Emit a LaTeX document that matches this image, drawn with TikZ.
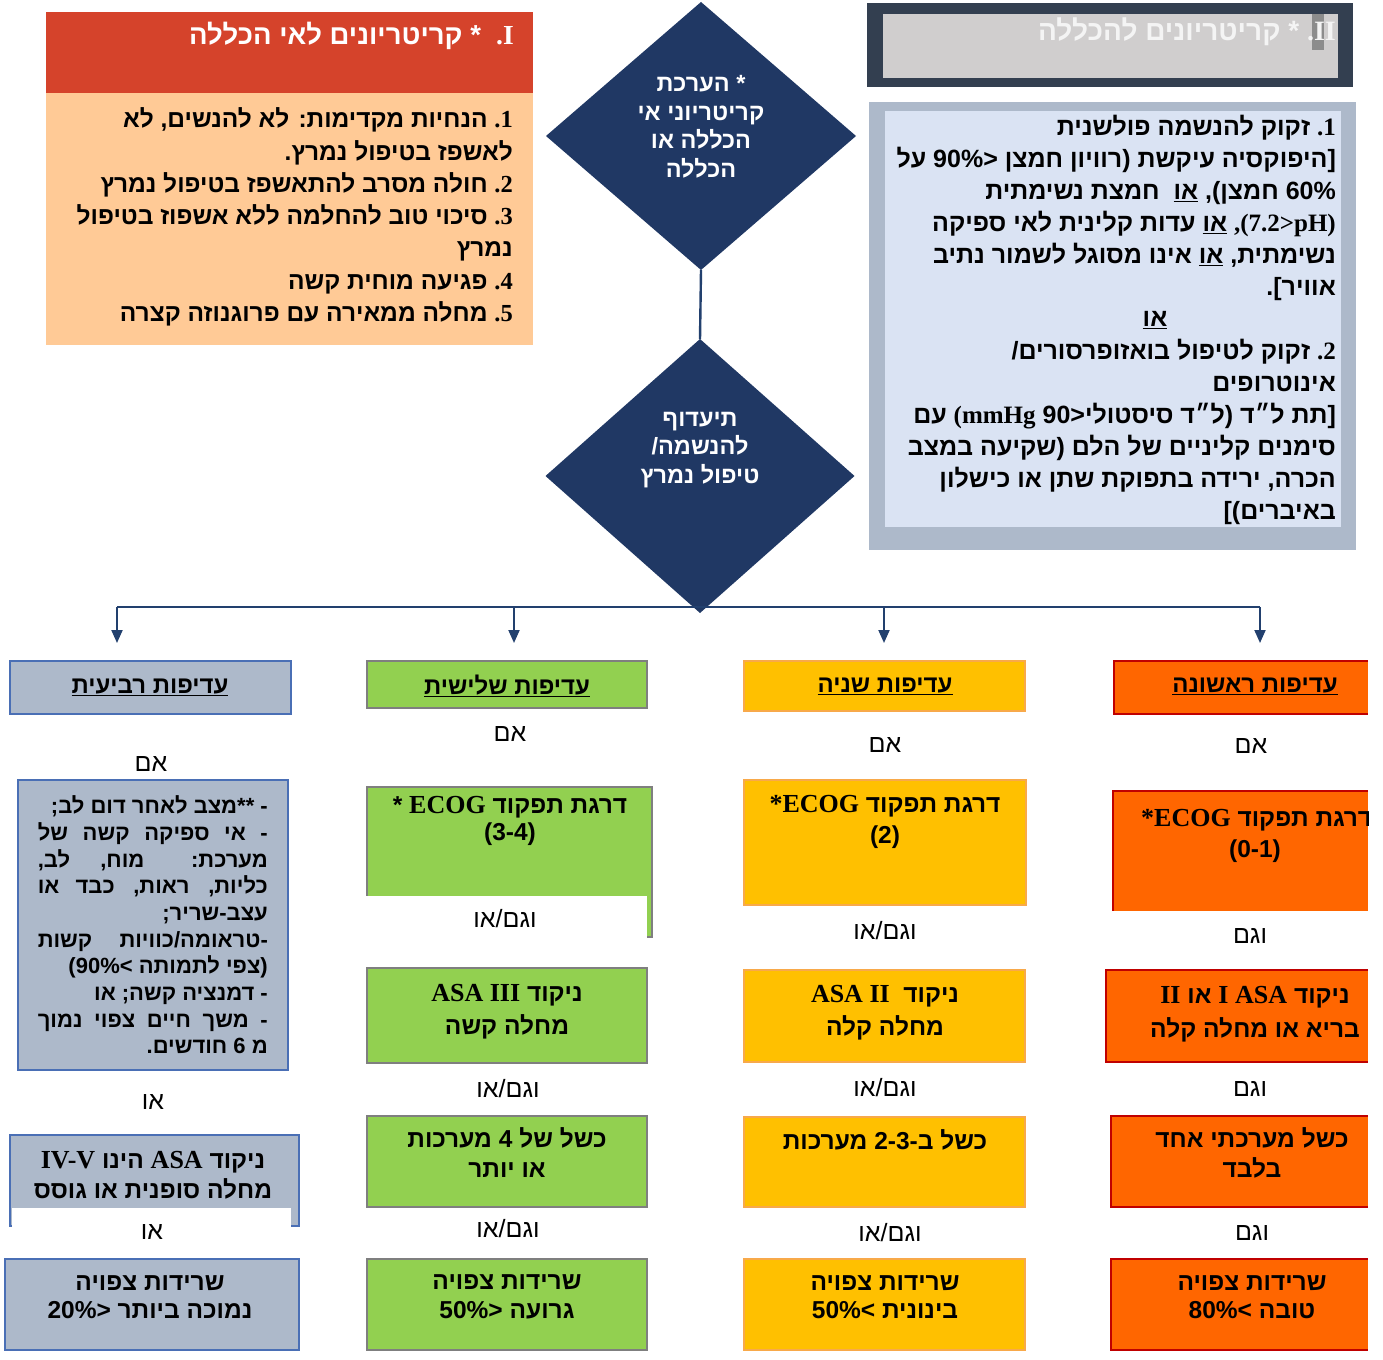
\documentclass[tikz,border=0pt]{standalone}
\usepackage{fontspec}
\usetikzlibrary{arrows.meta,shapes.geometric}
\TeXXeTstate=1
\newfontfamily\heb[Script=Hebrew]{Liberation Sans}
\newfontfamily\lat{Liberation Serif}
\newcommand\LAT[1]{\beginL{\lat\bfseries #1}\endL}
\newcommand\LATb[1]{\beginL{\lat\bfseries\fontsize{26}{30}\selectfont #1}\endL}
\newcommand\JL[1]{\hbox to 230pt{\beginR #1\endR}}
\newcommand\JR[1]{\hbox to 230pt{\hfill\beginR #1\endR}}
\definecolor{navy}{HTML}{203864}
\definecolor{linec}{HTML}{22406E}
\definecolor{redh}{HTML}{D5432B}
\definecolor{peach}{HTML}{FFCA96}
\definecolor{slate}{HTML}{333F50}
\definecolor{lgray}{HTML}{D0CECE}
\definecolor{ttlw}{HTML}{F4F4F4}
\definecolor{hgray}{HTML}{8C8C8C}
\definecolor{bgray}{HTML}{ADB9CA}
\definecolor{lblue}{HTML}{DAE3F3}
\definecolor{cfourd}{HTML}{4A6FB5}
\definecolor{cthreef}{HTML}{92D050}
\definecolor{cthreed}{HTML}{7F7F7F}
\definecolor{ctwof}{HTML}{FFC000}
\definecolor{ctwod}{HTML}{F8A94A}
\definecolor{conef}{HTML}{FF6600}
\definecolor{coned}{HTML}{C00000}
\tikzset{
  bxn/.style={inner sep=0pt, outer sep=0pt, anchor=north west},
  cfour/.style={bxn, fill=bgray, draw=cfourd, line width=2pt},
  cthree/.style={bxn, fill=cthreef, draw=cthreed, line width=2pt},
  ctwo/.style={bxn, fill=ctwof, draw=ctwod, line width=2pt},
  cone/.style={bxn, fill=conef},
  coneline/.style={draw=coned, line width=2pt},
  hbs/.style={font={\heb\bfseries\fontsize{24.5}{#1}\selectfont}, inner sep=0pt, align=center},
  hb/.style={hbs=30},
  hh/.style={font={\heb\bfseries\fontsize{24}{30}\selectfont}, inner sep=0pt, align=center},
  hr/.style={font={\heb\fontsize{25}{30}\selectfont}, inner sep=0pt},
  conn/.style={draw=linec, line width=2.4pt},
  arr/.style={draw=linec, line width=2pt, -{Triangle[length=13pt,width=11pt]}},
  dia/.style={shape=diamond, fill=navy, inner sep=0pt, outer sep=0pt},
  dtxt/.style={font={\heb\bfseries\fontsize{23.5}{28.5}\selectfont}, text=white, inner sep=0pt, align=center},
}
\begin{document}
\begin{tikzpicture}[x=1pt,y=-1pt]
\useasboundingbox (0,0) rectangle (1383,1359);
\fill[white] (0,0) rectangle (1383,1359);

% ---------- top left: exclusion criteria
\node[bxn, fill=redh, minimum width=487, minimum height=81] (exh) at (46,12) {};
\node[bxn, fill=peach, minimum width=487, minimum height=252] (exb) at (46,93) {};
\node[font={\heb\bfseries\fontsize{27.5}{30}\selectfont}, text=white, inner sep=0pt, anchor=east] (ext) at (514,36)
  {\beginR\LAT{.I}\ \ * קריטריונים לאי הכללה\endR};
\node[font={\heb\bfseries\fontsize{24.5}{32.3}\selectfont}, inner sep=0pt, anchor=east, align=right] (exx) at (513,217)
  {\beginR\LAT{.1} הנחיות מקדימות: לא להנשים, לא\endR\\
   \beginR לאשפז בטיפול נמרץ.\endR\\
   \beginR\LAT{.2} חולה מסרב להתאשפז בטיפול נמרץ\endR\\
   \beginR\LAT{.3} סיכוי טוב להחלמה ללא אשפוז בטיפול\endR\\
   \beginR נמרץ\endR\\
   \beginR\LAT{.4} פגיעה מוחית קשה\endR\\
   \beginR\LAT{.5} מחלה ממאירה עם פרוגנוזה קצרה\endR};

% ---------- top right: inclusion criteria
\node[bxn, fill=slate, minimum width=486, minimum height=84] (inf) at (867,3) {};
\node[bxn, fill=lgray, minimum width=455, minimum height=64] (ini) at (883,14) {};
\fill[hgray] (1312,14) rectangle (1324,50);
\node[font={\heb\bfseries\fontsize{28}{30}\selectfont}, text=ttlw, inner sep=0pt, anchor=east] (int) at (1336,32)
  {\beginR\LAT{.II} * קריטריונים להכללה\endR};
\node[bxn, fill=bgray, minimum width=487, minimum height=448] (icf) at (869,102) {};
\node[bxn, fill=lblue, minimum width=456, minimum height=416] (ici) at (885,111) {};
\node[font={\heb\bfseries\fontsize{25}{32}\selectfont}, inner sep=0pt, anchor=east, align=right] (ica) at (1336,208)
  {\beginR\LAT{.1} זקוק להנשמה פולשנית\endR\\
   \beginR [היפוקסיה עיקשת (רוויון חמצן <90\% על\endR\\
   \beginR 60\% חמצן), \underline{או}\ \ חמצת נשימתית\endR\\
   \beginR\LAT{,(7.2>pH)} \underline{או} עדות קלינית לאי ספיקה\endR\\
   \beginR נשימתית, \underline{או} אינו מסוגל לשמור נתיב\endR\\
   \beginR אוויר].\endR};
\node[font={\heb\bfseries\fontsize{25}{32}\selectfont}, inner sep=0pt] (ico) at (1155,320) {\underline{או}};
\node[font={\heb\bfseries\fontsize{25}{32}\selectfont}, inner sep=0pt, anchor=east, align=right] (icb) at (1336,432)
  {\beginR\LAT{.2} זקוק לטיפול בואזופרסורים/\endR\\
   \beginR אינוטרופים\endR\\
   \beginR [תת ל״ד (ל״ד סיסטולי<90 \LAT{(mmHg} עם\endR\\
   \beginR סימנים קליניים של הלם (שקיעה במצב\endR\\
   \beginR הכרה, ירידה בתפוקת שתן או כישלון\endR\\
   \beginR באיברים)]\endR};

% ---------- diamonds
\node[dia, minimum width=310, minimum height=268] (d1) at (701,136) {};
\node[dtxt] (d1t) at (701,127) {\beginR * הערכת\endR\\ \beginR קריטריוני אי\endR\\ \beginR הכללה או\endR\\ \beginR הכללה\endR};
\node[dia, minimum width=309, minimum height=274] (d2) at (700,476) {};
\node[dtxt] (d2t) at (700,450) {\beginR תיעדוף\endR\\ \beginR להנשמה/\endR\\ \beginR טיפול נמרץ\endR};
\draw[conn] (d1.south) -- (d2.north);

% ---------- distribution line and arrows
\coordinate (h4) at (117,607);
\coordinate (h3) at (514,607);
\coordinate (h2) at (884,607);
\coordinate (h1) at (1260,607);
\coordinate (e4) at (117,643);
\coordinate (e3) at (514,643);
\coordinate (e2) at (884,643);
\coordinate (e1) at (1260,643);
\draw[conn, line width=2pt] (h4) -- (h1);
\draw[arr] (h4) -- (e4);
\draw[arr] (h3) -- (e3);
\draw[arr] (h2) -- (e2);
\draw[arr] (h1) -- (e1);

% ---------- column 4 (fourth priority)
\node[cfour, minimum width=281, minimum height=53] (p4) at (10,661) {};
\node[hh] (p4t) at (150,687) {\underline{\beginR עדיפות רביעית\endR}};
\node[hr] (p4if) at (151,764) {\beginR אם\endR};
\node[cfour, minimum width=270, minimum height=290] (p4a) at (18,780) {};
\node[font={\heb\bfseries\fontsize{22}{26.7}\selectfont}, inner sep=0pt, anchor=east, align=right] (p4at) at (268,925)
  {\JR{- **מצב לאחר דום לב;}\\
   \JL{- אי ספיקה קשה של}\\
   \JL{מערכת: מוח, לב,}\\
   \JL{כליות, ראות, כבד או}\\
   \JR{עצב-שריר;}\\
   \JL{-טראומה/כוויות קשות}\\
   \JR{(צפי לתמותה >90\%)}\\
   \JR{- דמנציה קשה; או}\\
   \JL{- משך חיים צפוי נמוך}\\
   \JR{מ 6 חודשים.}};
\node[hr] (p4or1) at (153,1102) {\beginR או\endR};
\node[cfour, minimum width=289, minimum height=91] (p4b) at (10,1135) {};
\fill[white] (11.5,1208) rectangle (291,1228);
\node[hb] (p4bt) at (153,1175) {\beginR ניקוד \LATb{ASA} הינו \LATb{IV-V}\endR\\ \beginR מחלה סופנית או גוסס\endR};
\node[hr] (p4or2) at (152,1232) {\beginR או\endR};
\node[cfour, minimum width=294, minimum height=91] (p4c) at (5,1259) {};
\node[hbs=28] (p4ct) at (150,1297) {\beginR שרידות צפויה\endR\\ \beginR נמוכה ביותר <20\%\endR};

% ---------- column 3 (third priority)
\node[cthree, minimum width=280, minimum height=47] (p3) at (367,661) {};
\node[hh] (p3t) at (507,686) {\underline{\beginR עדיפות שלישית\endR}};
\node[hr] (p3if) at (510,734) {\beginR אם\endR};
\node[cthree, minimum width=285, minimum height=150] (p3a) at (367,787) {};
\fill[white] (365,896) rectangle (647,939);
\node[hbs=27] (p3at) at (510,821) {\beginR דרגת תפקוד \LATb{ECOG} *\endR\\ \beginR (3-4)\endR};
\node[hr] (p3x1) at (505,919) {\beginR וגם/או\endR};
\node[cthree, minimum width=280, minimum height=95] (p3b) at (367,968) {};
\node[hbs=33] (p3bt) at (507,1012) {\beginR ניקוד \LATb{ASA III}\endR\\ \beginR מחלה קשה\endR};
\node[hr] (p3x2) at (508,1089) {\beginR וגם/או\endR};
\node[cthree, minimum width=280, minimum height=91] (p3c) at (367,1116) {};
\node[hb] (p3ct) at (507,1153) {\beginR כשל של 4 מערכות\endR\\ \beginR או יותר\endR};
\node[hr] (p3x3) at (508,1229) {\beginR וגם/או\endR};
\node[cthree, minimum width=280, minimum height=91] (p3d) at (367,1259) {};
\node[hbs=29] (p3dt) at (507,1297) {\beginR שרידות צפויה\endR\\ \beginR גרועה <50\%\endR};

% ---------- column 2 (second priority)
\node[ctwo, minimum width=281, minimum height=50] (p2) at (744,661) {};
\node[hh] (p2t) at (885,686) {\underline{\beginR עדיפות שניה\endR}};
\node[hr] (p2if) at (885,745) {\beginR אם\endR};
\node[ctwo, minimum width=282, minimum height=125] (p2a) at (744,780) {};
\node[hbs=31] (p2at) at (885,822) {\beginR דרגת תפקוד \LATb{*ECOG}\endR\\ \beginR (2)\endR};
\node[hr] (p2x1) at (885,931) {\beginR וגם/או\endR};
\node[ctwo, minimum width=281, minimum height=92] (p2b) at (744,970) {};
\node[hbs=33] (p2bt) at (885,1013) {\beginR ניקוד\ \ \LATb{ASA II}\endR\\ \beginR מחלה קלה\endR};
\node[hr] (p2x2) at (885,1088) {\beginR וגם/או\endR};
\node[ctwo, minimum width=281, minimum height=90] (p2c) at (744,1117) {};
\node[hb] (p2ct) at (885,1140) {\beginR כשל ב-2-3 מערכות\endR};
\node[hr] (p2x3) at (890,1233) {\beginR וגם/או\endR};
\node[ctwo, minimum width=281, minimum height=91] (p2d) at (744,1259) {};
\node[hbs=28] (p2dt) at (885,1297) {\beginR שרידות צפויה\endR\\ \beginR בינונית >50\%\endR};

% ---------- column 1 (first priority)
\node[cone, minimum width=254, minimum height=53] (p1) at (1114,661) {};
\draw[coneline] (p1.north east) -- (p1.north west) -- (p1.south west) -- (p1.south east);
\node[hh] (p1t) at (1255,686) {\underline{\beginR עדיפות ראשונה\endR}};
\node[hr] (p1if) at (1251,746) {\beginR אם\endR};
\node[cone, minimum width=255, minimum height=120] (p1a) at (1113,791) {};
\draw[coneline] (p1a.north east) -- (p1a.north west) -- (p1a.south west);
\begin{scope}
\clip (1100,780) rectangle (1368,915);
\node[hb, anchor=west] (p1at) at (1141,820) {\beginR דרגת תפקוד \LATb{*ECOG}\endR};
\end{scope}
\node[hb] (p1at2) at (1255,851) {\beginR (0-1)\endR};
\node[hr] (p1x1) at (1250,936) {\beginR וגם\endR};
\node[cone, minimum width=262, minimum height=92] (p1b) at (1106,970) {};
\draw[coneline] (p1b.north east) -- (p1b.north west) -- (p1b.south west) -- (p1b.south east);
\node[hbs=34] (p1bt) at (1255,1014) {\beginR ניקוד \LATb{ASA} \LATb{I} או \LATb{II}\endR\\ \beginR בריא או מחלה קלה\endR};
\node[hr] (p1x2) at (1250,1089) {\beginR וגם\endR};
\node[cone, minimum width=257, minimum height=91] (p1c) at (1111,1116) {};
\draw[coneline] (p1c.north east) -- (p1c.north west) -- (p1c.south west) -- (p1c.south east);
\node[hb] (p1ct) at (1252,1153) {\beginR כשל מערכתי אחד\endR\\ \beginR בלבד\endR};
\node[hr] (p1x3) at (1252,1233) {\beginR וגם\endR};
\node[cone, minimum width=257, minimum height=91] (p1d) at (1111,1259) {};
\draw[coneline] (p1d.north east) -- (p1d.north west) -- (p1d.south west) -- (p1d.south east);
\node[hbs=28] (p1dt) at (1252,1297) {\beginR שרידות צפויה\endR\\ \beginR טובה >80\%\endR};
\end{tikzpicture}
\end{document}
